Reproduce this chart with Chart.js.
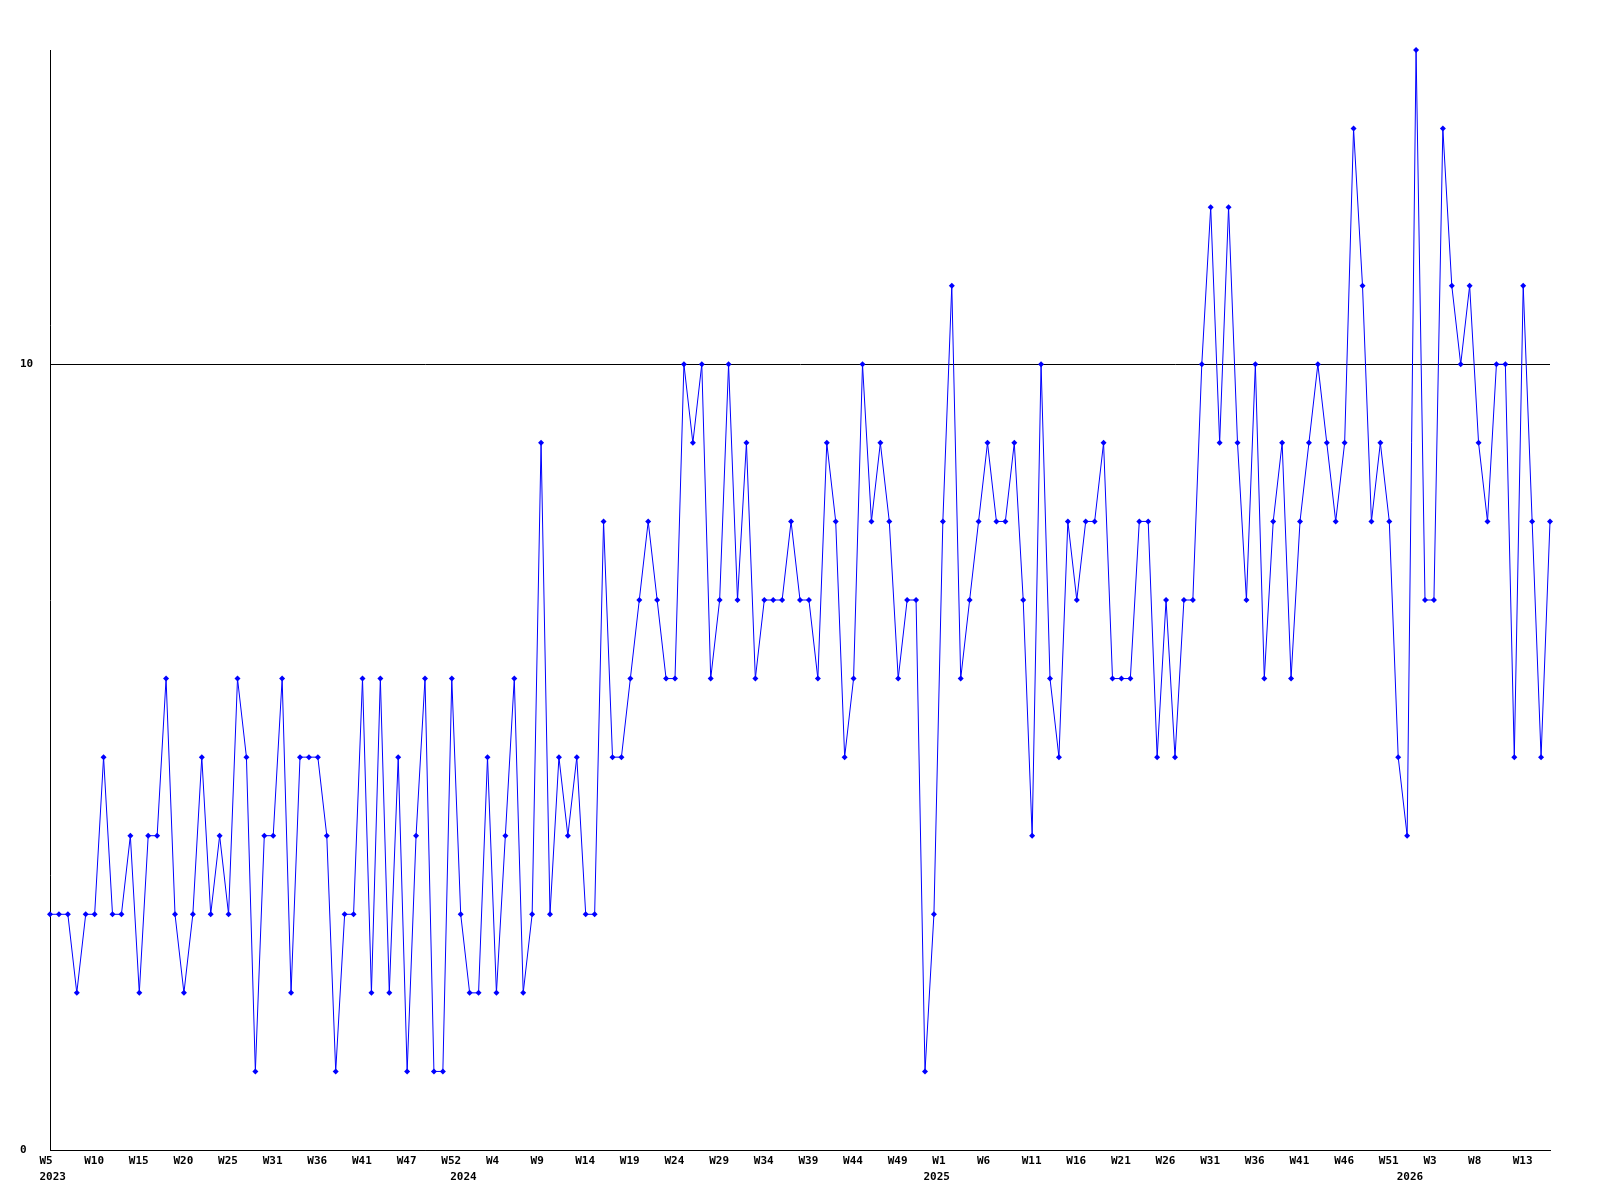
<!DOCTYPE html>
<html><head><meta charset="utf-8">
<script src="https://cdn.jsdelivr.net/npm/chart.js@4.4.1/dist/chart.umd.min.js"></script>
<style>html,body{margin:0;padding:0;background:#fff;} canvas{display:block;}</style>
</head><body>
<canvas id="c" width="1600" height="1200"></canvas>
<script>
// Series values, one per sample (169 samples)
const values = [
  3,3,3,2,3,3,5,3,3,4,2,4,4,6,3,2,3,5,3,4,3,6,
  5,1,4,4,6,2,5,5,5,4,1,3,3,6,2,6,2,5,1,4,6,
  1,1,6,3,2,2,5,2,4,6,2,3,9,3,5,4,5,3,3,8,5,5,
  6,7,8,7,6,6,10,9,10,6,7,10,7,9,6,7,7,7,8,7,7,6,
  9,8,5,6,10,8,9,8,6,7,7,1,3,8,11,6,7,8,9,8,8,
  9,7,4,10,6,5,8,7,8,8,9,6,6,6,8,8,5,7,5,7,7,
  10,12,9,12,9,7,10,6,8,9,6,8,9,10,9,8,9,13,11,8,9,8,
  5,4,14,7,7,13,11,10,11,9,8,10,10,5,11,8,5,8
];
// Week tick labels, one every 5 samples
const weekTickLabels = ['W5','W10','W15','W20','W25','W31','W36','W41','W47','W52',
  'W4','W9','W14','W19','W24','W29','W34','W39','W44','W49',
  'W1','W6','W11','W16','W21','W26','W31','W36','W41','W46','W51',
  'W3','W8','W13'];
const weekTickStep = 5;
// Year labels and the sample index where each year starts
const yearTickLabels = ['2023','2024','2025','2026'];
const yearTickIndex = [0,46,99,152];
// Y axis
const yTickValues = [0,10];
const yMin = 0, yMax = 14;

const points = values.map((v,i)=>({x:i,y:v}));
const FONT = {family:'"DejaVu Sans Mono", "Liberation Mono", monospace', size:11, weight:'bold'};

new Chart(document.getElementById('c'), {
  type:'line',
  data:{datasets:[{
    data:points, borderColor:'#0000ff', borderWidth:1,
    pointStyle:'rectRot', pointRadius:3, pointBackgroundColor:'#0000ff',
    pointBorderColor:'#0000ff', pointBorderWidth:0, tension:0, clip:false,
    xAxisID:'x', yAxisID:'y'
  }]},
  options:{
    responsive:false, animation:false, devicePixelRatio:1,
    layout:{padding:{left:20, right:50, top:50, bottom:14}},
    plugins:{legend:{display:false}, tooltip:{enabled:false}},
    scales:{
      x:{
        type:'linear', position:'bottom', weight:0, min:0, max:values.length-1,
        afterBuildTicks: s => { s.ticks = weekTickLabels.map((l,i)=>({value:i*weekTickStep})); },
        ticks:{autoSkip:false, maxRotation:0, minRotation:0, align:'start', labelOffset:-10.5,
               padding:5, color:'#000', font:FONT, callback:(v,i)=>weekTickLabels[i]},
        grid:{display:false, drawTicks:false},
        border:{display:true, color:'#000', width:1},
        afterFit: s => { s.height = 16; }
      },
      x2:{
        type:'linear', position:'bottom', weight:1, min:0, max:values.length-1,
        afterBuildTicks: s => { s.ticks = yearTickIndex.map(v=>({value:v})); },
        ticks:{autoSkip:false, maxRotation:0, minRotation:0, align:'start', labelOffset:-10.5,
               padding:5, color:'#000', font:FONT, callback:(v,i)=>yearTickLabels[i]},
        grid:{display:false, drawTicks:false},
        border:{display:false},
        afterFit: s => { s.height = 20; }
      },
      y:{
        type:'linear', position:'left', min:yMin, max:yMax,
        afterBuildTicks: s => { s.ticks = yTickValues.map(v=>({value:v})); },
        ticks:{crossAlign:'far', padding:0, color:'#000', font:FONT, callback:v=>String(v)},
        grid:{color:'#000', lineWidth:1, drawTicks:false},
        border:{display:true, color:'#000', width:1},
        afterFit: s => { s.width = 30; }
      }
    }
  }
});
</script>
</body></html>
